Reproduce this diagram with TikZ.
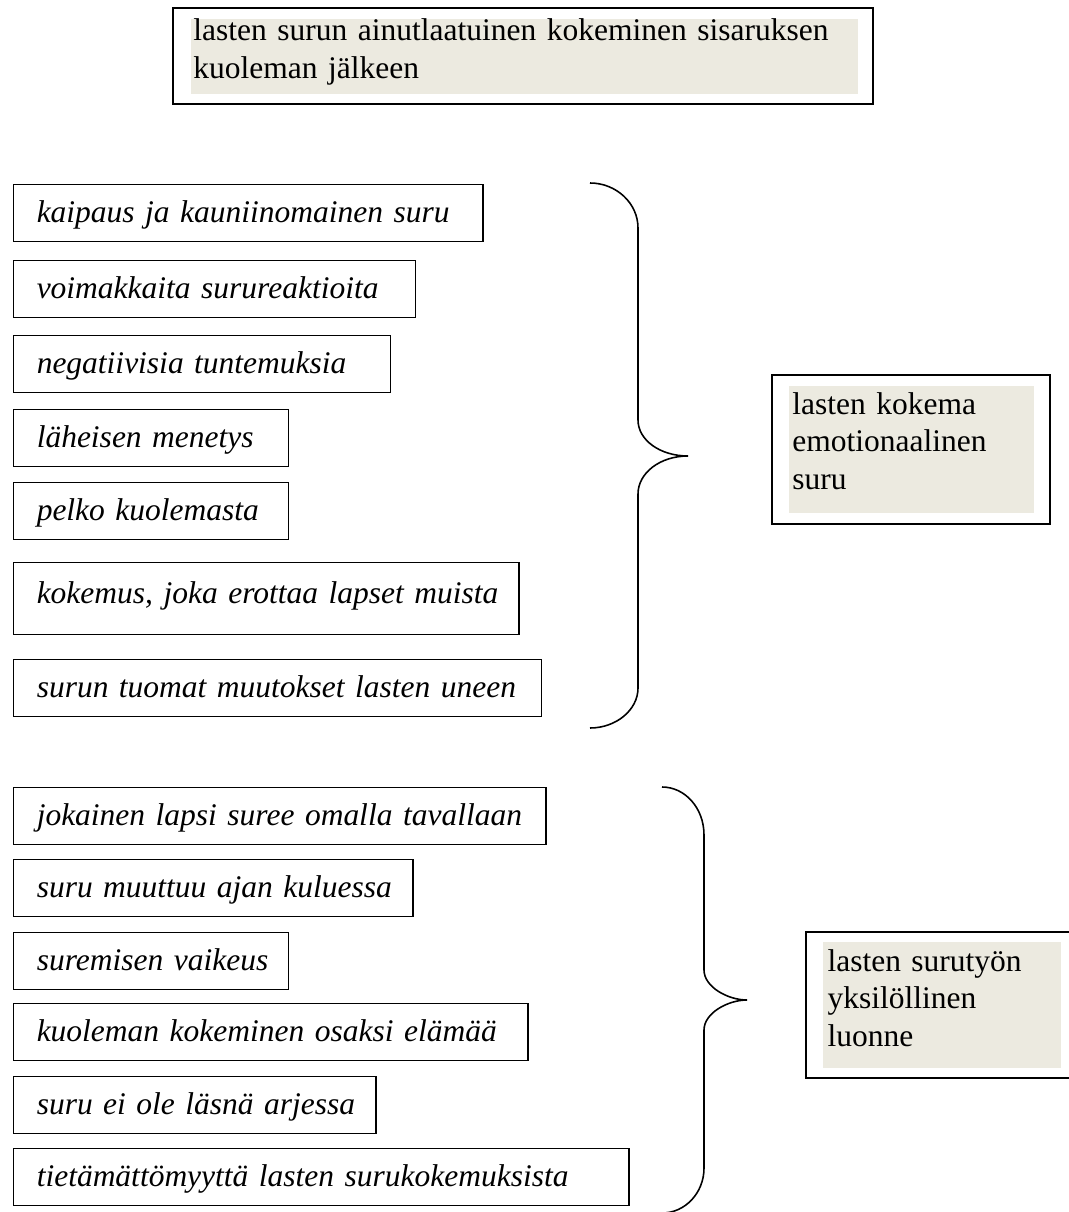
\documentclass[tikz,border=0pt]{standalone}
\usepackage{fontspec}
\setmainfont{Liberation Serif}
\usepackage{tikz}
\usetikzlibrary{positioning}
\definecolor{shade}{RGB}{236,234,224}

\begin{document}
\begin{tikzpicture}[x = 0.381pt, y = -0.381pt]
	\tikzstyle{every node} = [rectangle, draw = black, anchor = north west, inner ysep = 0pt, font = \fontsize{12}{14.3}\selectfont]
	\tikzstyle{item} = [line width = 0.5pt, inner xsep = 8.8pt, text height = 14.5pt, text depth = 7.2pt, align = left, font = \fontsize{12}{14.3}\selectfont\itshape, execute at begin node = \hbox\bgroup, execute at end node = \egroup]
	\tikzstyle{frame} = [line width = 0.8pt, inner xsep = 0pt]
	\tikzstyle{fillbox} = [draw = none, fill = shade, align = left]
	\tikzstyle{brace} = [line width = 0.6pt]
\useasboundingbox (0, 0) rectangle (1069, 1212);

% top
\node[frame, minimum width = 266.7pt, minimum height = 36.6pt] (0) at (172, 7) {};
\node[fillbox, text width = 252.2pt, inner xsep = 1.1pt, text height = 8.4pt, text depth = 20.2pt] (1) at (190, 18) {lasten surun ainutlaatuinen kokeminen sisaruksen\\kuoleman jälkeen};

% first group
\node[item, text width = 161.2pt] (2) at (13, 184) {kaipaus ja kauniinomainen suru};
\node[item, text width = 135.6pt] (3) at (13, 260) {voimakkaita surureaktioita};
\node[item, text width = 126.1pt] (4) at (13, 335) {negatiivisia tuntemuksia};
\node[item, text width = 87.2pt] (5) at (13, 409) {läheisen menetys};
\node[item, text width = 87.2pt] (6) at (13, 482) {pelko kuolemasta};
\node[item, text width = 174.9pt, text height = 15.6pt, text depth = 11.8pt] (7) at (13, 562) {kokemus, joka erottaa lapset muista};
\node[item, text width = 183.6pt] (8) at (13, 659) {surun tuomat muutokset lasten uneen};

\node[frame, minimum width = 105.9pt, minimum height = 56.8pt] (9) at (771, 374) {};
\node[fillbox, text width = 90.7pt, inner xsep = 1.5pt, text height = 11pt, text depth = 37.7pt] (10) at (788, 385) {lasten kokema\\emotionaalinen\\suru};

\path[draw, brace] (590, 183) .. controls (616, 183) and (638, 203) .. (638, 228) -- (638, 420)
	.. controls (638, 440) and (660, 456) .. (688, 456) .. controls (660, 456) and (638, 473) .. (638, 494)
	-- (638, 688) .. controls (638, 710) and (616, 728) .. (590, 728);

% second group
\node[item, text width = 185.2pt] (11) at (13, 787) {jokainen lapsi suree omalla tavallaan};
\node[item, text width = 134.5pt] (12) at (13, 859) {suru muuttuu ajan kuluessa};
\node[item, text width = 87.2pt] (13) at (13, 932) {suremisen vaikeus};
\node[item, text width = 178.3pt] (14) at (13, 1003) {kuoleman kokeminen osaksi elämää};
\node[item, text width = 120.4pt] (15) at (13, 1076) {suru ei ole läsnä arjessa};
\node[item, text width = 216.8pt] (16) at (13, 1148) {tietämättömyyttä lasten surukokemuksista};

\node[frame, minimum width = 102.9pt, minimum height = 55.6pt] (17) at (805, 931) {};
\node[fillbox, text width = 87.2pt, inner xsep = 1.9pt, text height = 11.4pt, text depth = 36.6pt] (18) at (822, 941) {lasten surutyön\\yksilöllinen\\luonne};

\path[draw, brace] (662, 787) .. controls (685, 787) and (704, 808) .. (704, 835) -- (704, 970)
	.. controls (704, 987) and (728, 1000) .. (747, 1000) .. controls (728, 1000) and (704, 1013) .. (704, 1030)
	-- (704, 1168) .. controls (704, 1193) and (685, 1213) .. (662, 1213);
\end{tikzpicture}
\end{document}
